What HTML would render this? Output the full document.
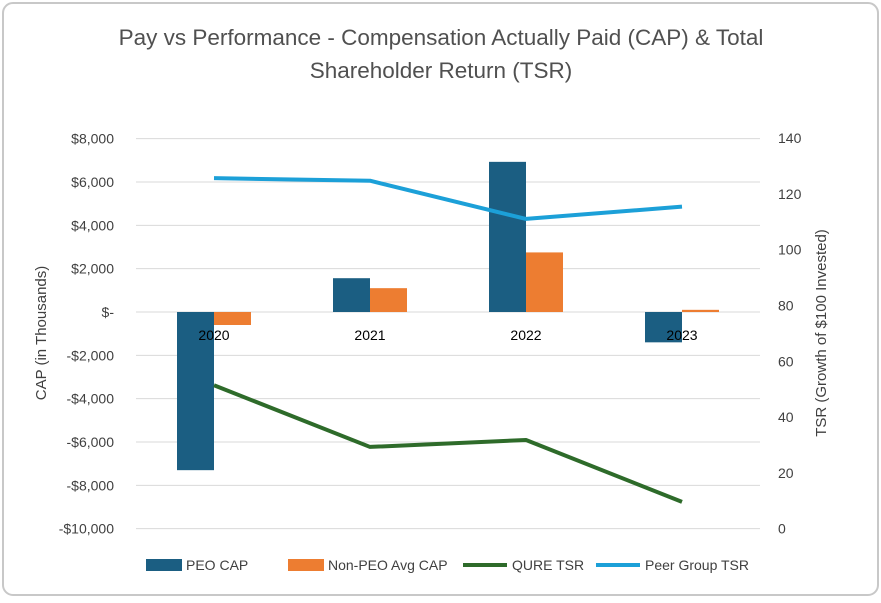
<!DOCTYPE html>
<html><head><meta charset="utf-8"><style>
html,body{margin:0;padding:0;background:#fff;}
body{width:881px;height:598px;overflow:hidden;font-family:"Liberation Sans",sans-serif;}
</style></head><body>
<svg width="881" height="598" font-family="Liberation Sans, sans-serif">
<rect x="3" y="3" width="875" height="592" rx="10" fill="#fff" stroke="#c8c8c8" stroke-width="2"/>
<text x="441" y="45" text-anchor="middle" font-size="22.5" fill="#505050">Pay vs Performance - Compensation Actually Paid (CAP) &amp; Total</text>
<text x="441" y="78" text-anchor="middle" font-size="22.5" fill="#505050">Shareholder Return (TSR)</text>
<g id="grid"></g><g id="bars"></g><g id="lines"></g><g id="axes"></g>
<text transform="translate(46,333) rotate(-90)" text-anchor="middle" font-size="15" fill="#404040">CAP (in Thousands)</text>
<text transform="translate(826,333) rotate(-90)" text-anchor="middle" font-size="15" fill="#404040">TSR (Growth of $100 Invested)</text>
<g font-size="14" fill="#404040">
<rect x="146" y="559" width="36" height="12" fill="#1B5E82"/>
<text x="186" y="570">PEO CAP</text>
<rect x="288" y="559" width="36" height="12" fill="#ED7D31"/>
<text x="328" y="570">Non-PEO Avg CAP</text>
<line x1="463" y1="565" x2="507" y2="565" stroke="#2E6B2A" stroke-width="4"/>
<text x="512" y="570">QURE TSR</text>
<line x1="596" y1="565" x2="640" y2="565" stroke="#1CA0D8" stroke-width="4"/>
<text x="645" y="570">Peer Group TSR</text>
</g>
</svg>
<script>
const categories=["2020","2021","2022","2023"];
const peoCap=[-7300,1560,6930,-1400];
const nonPeoCap=[-600,1100,2750,100];
const qureTsr=[51.4,29.3,31.8,9.6];
const peerTsr=[125.6,124.7,111,115.4];
const leftTicks=[8000,6000,4000,2000,0,-2000,-4000,-6000,-8000,-10000];
const rightTicks=[140,120,100,80,60,40,20,0];
const NS="http://www.w3.org/2000/svg";
const plotL=136,plotR=760,band=(plotR-plotL)/4,barW=37;
function yL(v){return 312-v*0.021667;}
function yR(v){return 528.7-v*(390.7/140);}
function xC(i){return plotL+band*(i+0.5);}
function mk(tag,attrs,parent){const e=document.createElementNS(NS,tag);for(const k in attrs)e.setAttribute(k,attrs[k]);document.getElementById(parent).appendChild(e);return e;}
function fmt(v){if(v===0)return "$-";const s="$"+Math.abs(v).toLocaleString("en-US");return v<0?"-"+s:s;}
leftTicks.forEach(v=>{
 const l=mk("line",{x1:plotL,x2:plotR,y1:yL(v),y2:yL(v),stroke:"#d9d9d9","stroke-width":1},"grid");
 
 
 const t=mk("text",{x:114,y:yL(v)+5,"text-anchor":"end","font-size":14,fill:"#404040"},"axes");
 t.textContent=fmt(v);
 
 
});
rightTicks.forEach(v=>{
 const t=mk("text",{x:778,y:yR(v)+5,"font-size":14,fill:"#404040"},"axes");
 t.textContent=v;
 
 
});
categories.forEach((c,i)=>{
 const cx=xC(i);
 [[peoCap[i],cx-barW,"#1B5E82","bar-peo-cap"],[nonPeoCap[i],cx,"#ED7D31","bar-non-peo-cap"]].forEach(([v,x,col,n])=>{
  const y0=Math.min(yL(v),yL(0)),h=Math.abs(yL(v)-yL(0));
  const r=mk("rect",{x:x,y:y0,width:barW,height:h,fill:col},"bars");
  
  
 });
 const t=mk("text",{x:cx,y:340,"text-anchor":"middle","font-size":14,fill:"#000"},"axes");
 t.textContent=c;
 
 
});
function line(data,col,name){
 const p=mk("polyline",{points:data.map((v,i)=>xC(i)+","+yR(v)).join(" "),fill:"none",stroke:col,"stroke-width":4,"stroke-linejoin":"round"},"lines");
 
 
}
line(qureTsr,"#2E6B2A","line-qure-tsr");
line(peerTsr,"#1CA0D8","line-peer-group-tsr");
</script>
</body></html>
